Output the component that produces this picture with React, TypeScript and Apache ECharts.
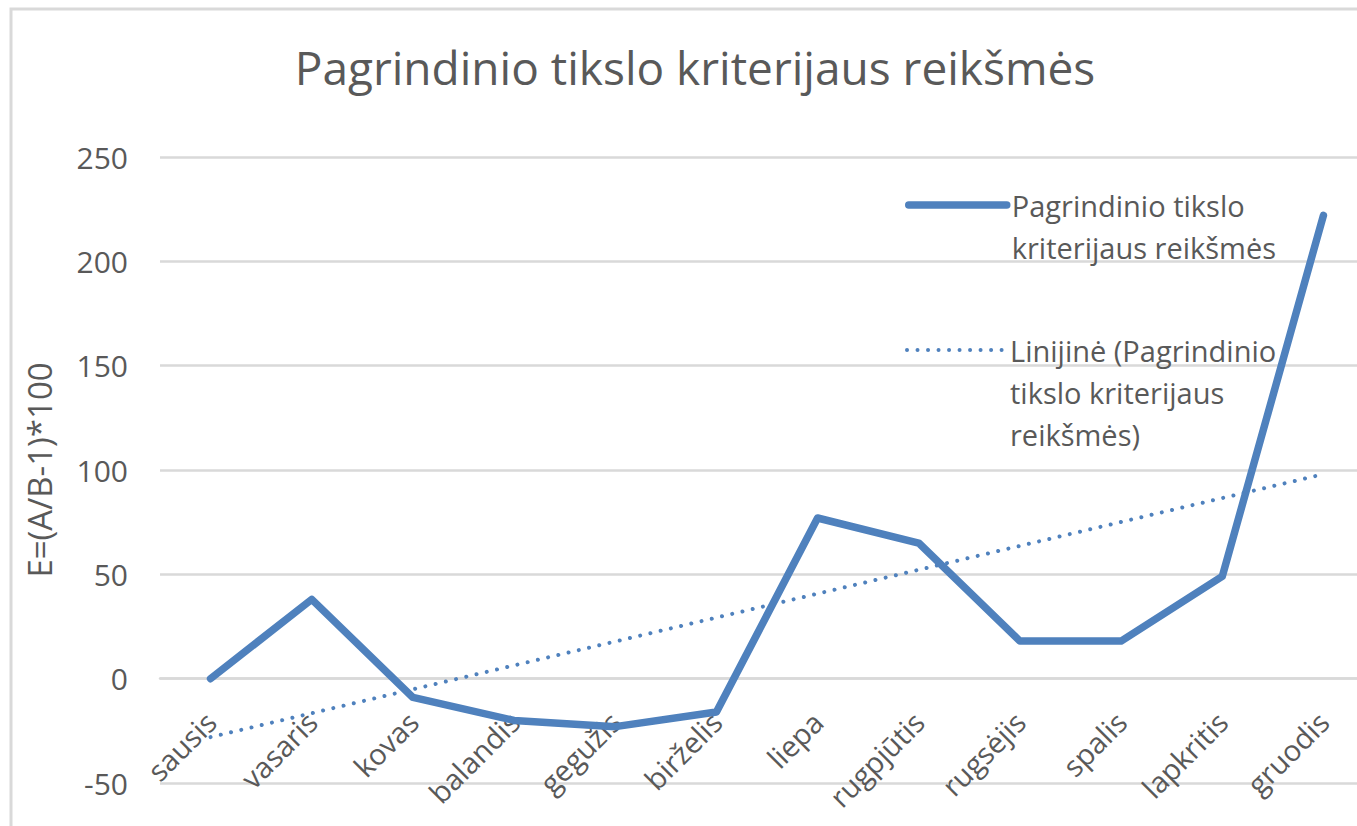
import React, { useEffect, useRef } from "react";
import * as echarts from "echarts";

const months = [
  "sausis",
  "vasaris",
  "kovas",
  "balandis",
  "gegužis",
  "birželis",
  "liepa",
  "rugpjūtis",
  "rugsėjis",
  "spalis",
  "lapkritis",
  "gruodis",
];
const values = [0, 38, -9, -20, -23, -16, 77, 65, 18, 18, 49, 222];
const trendStart = -28;
const trendEnd = 98;
const yMin = -50;
const yMax = 250;
const yStep = 50;

const titleText = "Pagrindinio tikslo kriterijaus reikšmės";
const seriesName = "Pagrindinio tikslo kriterijaus reikšmės";
const trendName = "Linijinė (Pagrindinio tikslo kriterijaus reikšmės)";
const seriesLegendLabel = " \nPagrindinio tikslo\nkriterijaus reikšmės";
const trendLegendLabel = " \n \nLinijinė (Pagrindinio\ntikslo kriterijaus\nreikšmės)";
const yAxisName = "E=(A/B-1)*100";

const FONT = "'Open Sans', 'Noto Sans', sans-serif";
const TEXT = "#595959";
const BLUE = "#4f81bd";
const GRID = "#d9d9d9";

export default function App() {
  const ref = useRef<HTMLDivElement>(null);
  useEffect(() => {
    if (!ref.current) return;
    const chart = echarts.init(ref.current, undefined, { renderer: "svg" });
    const trendData = months.map((_, i) =>
      i === 0 ? trendStart : i === months.length - 1 ? trendEnd : null
    );
    chart.setOption({
      animation: false,
      backgroundColor: "#ffffff",
      textStyle: { fontFamily: FONT },
      title: {
        text: titleText,
        left: "center",
        top: 44,
        padding: 0,
        textStyle: { fontSize: 46, fontWeight: "normal", color: TEXT, fontFamily: FONT },
      },
      graphic: [
        {
          type: "rect",
          shape: { x: 11, y: 9, width: 1368, height: 900 },
          style: { fill: "none", stroke: GRID, lineWidth: 3 },
          silent: true,
        },
      ],
      legend: [
        {
          data: [{ name: seriesName }],
          orient: "vertical",
          left: 905,
          top: 142,
          padding: 0,
          itemWidth: 98,
          itemHeight: 14,
          formatter: () => seriesLegendLabel,
          itemStyle: { opacity: 0 },
          lineStyle: { color: BLUE, width: 7.5, cap: "round" },
          textStyle: {
            fontSize: 29,
            lineHeight: 42,
            color: TEXT,
            fontFamily: FONT,
          },
        },
        {
          data: [{ name: trendName }],
          orient: "vertical",
          left: 905,
          top: 245,
          padding: 0,
          itemWidth: 98,
          itemHeight: 14,
          formatter: () => trendLegendLabel,
          itemStyle: { opacity: 0 },
          lineStyle: { color: BLUE, width: 4, type: [0.01, 10.5], cap: "round" },
          textStyle: {
            fontSize: 29,
            lineHeight: 42,
            color: TEXT,
            fontFamily: FONT,
          },
        },
      ],
      grid: {
        left: 160,
        right: 16,
        top: 157,
        bottom: 77,
        containLabel: false,
        outerBoundsMode: "none",
      },
      xAxis: {
        type: "category",
        data: months,
        boundaryGap: true,
        offset: -104.3,
        axisLine: { show: true, onZero: false, lineStyle: { color: GRID, width: 2.5 } },
        axisTick: { show: false },
        splitLine: { show: false },
        axisLabel: {
          interval: 0,
          rotate: 45,
          margin: 38,
          fontSize: 29,
          color: TEXT,
          fontFamily: FONT,
        },
      },
      yAxis: {
        type: "value",
        min: yMin,
        max: yMax,
        interval: yStep,
        name: yAxisName,
        nameLocation: "middle",
        nameGap: 104,
        nameTextStyle: { fontSize: 33, color: TEXT, fontFamily: FONT },
        axisLine: { show: false },
        axisTick: { show: false },
        axisLabel: { margin: 32, fontSize: 30, color: TEXT, fontFamily: FONT },
        splitLine: { show: true, lineStyle: { color: GRID, width: 2.5 } },
      },
      series: [
        {
          name: seriesName,
          type: "line",
          data: values,
          symbol: "none",
          lineStyle: { color: BLUE, width: 7.5, cap: "round", join: "round" },
          itemStyle: { color: BLUE },
          z: 3,
        },
        {
          name: trendName,
          type: "line",
          data: trendData,
          connectNulls: true,
          symbol: "none",
          lineStyle: { color: BLUE, width: 4, type: [0.01, 10.5], cap: "round" },
          itemStyle: { color: BLUE },
          z: 2,
        },
      ],
    });
    return () => chart.dispose();
  }, []);
  return (
    <div
      style={{
        position: "absolute",
        left: 0,
        top: 0,
        width: 1357,
        height: 826,
        overflow: "hidden",
        background: "#fff",
      }}
    >
      <div ref={ref} style={{ width: 1390, height: 860 }} />
    </div>
  );
}
